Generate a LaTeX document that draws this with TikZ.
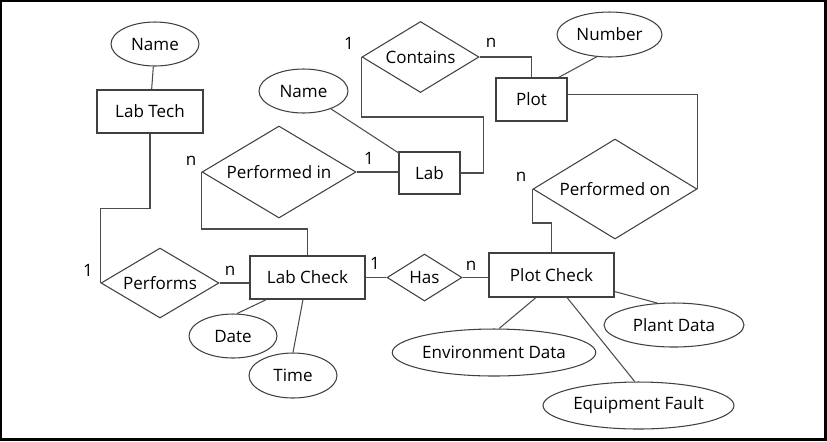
\documentclass[tikz,border=0pt]{standalone}
\usepackage{fontspec}
\setmainfont{Open Sans}
\usepackage{tikz}
\usetikzlibrary{shapes.geometric}

\begin{document}
\begin{tikzpicture}[x = 0.02cm, y = -0.02cm, line width = 0.6pt,
                    every node/.style = {font = \fontsize{9.7}{11}\selectfont},
                    entity/.style = {rectangle, draw = black!75, inner sep = 0pt},
                    attrib/.style = {ellipse, draw = black!75, inner sep = 0pt},
                    relation/.style = {diamond, draw = black!75, aspect = 1.7, inner sep = 0pt},
                    link/.style = {draw = black!70}]

\useasboundingbox (0,0) rectangle (827,441);
\draw[line width = 1.2pt] (1,1) rectangle (825.5,439.5);

% entities
\node [entity, minimum width = 2.12cm, minimum height = 0.86cm] (LabTech) at (150,111.5) {Lab Tech};
\node [entity, minimum width = 2.30cm, minimum height = 0.86cm] (LabCheck) at (307.5,277.5) {Lab Check};
\node [entity, minimum width = 1.22cm, minimum height = 0.84cm] (Lab) at (429.5,173) {Lab};
\node [entity, minimum width = 1.42cm, minimum height = 0.86cm] (Plot) at (531.5,99.5) {Plot};
\node [entity, minimum width = 2.50cm, minimum height = 0.88cm] (PlotCheck) at (551.5,275) {Plot Check};

% relations
\node [relation, minimum width = 2.36cm, minimum height = 1.40cm] (Performs) at (160,283) {Performs};
\node [relation, minimum width = 3.08cm, minimum height = 1.84cm] (PerformedIn) at (279,172) {Performed in};
\node [relation, minimum width = 2.34cm, minimum height = 1.42cm] (Contains) at (420.5,57) {Contains};
\node [relation, minimum width = 3.28cm, minimum height = 2.00cm] (PerformedOn) at (615,189) {Performed on};
\node [relation, minimum width = 1.50cm, minimum height = 0.94cm] (Has) at (424.5,277.5) {Has};

% attributes
\node [attrib, minimum width = 1.76cm, minimum height = 0.88cm] (LabTechName) at (155,44) {Name};
\node [attrib, minimum width = 1.78cm, minimum height = 0.88cm] (LabName) at (303.5,91) {Name};
\node [attrib, minimum width = 2.10cm, minimum height = 0.90cm] (PlotNumber) at (609.5,34.5) {Number};
\node [attrib, minimum width = 1.76cm, minimum height = 0.88cm] (Date) at (233,336) {Date};
\node [attrib, minimum width = 1.76cm, minimum height = 0.90cm] (Time) at (293,375.5) {Time};
\node [attrib, minimum width = 3.86cm, minimum height = 0.94cm] (EnvData) at (494,352.5) {Environment Data};
\node [attrib, minimum width = 3.82cm, minimum height = 0.94cm] (EquipFault) at (638.5,405.5) {Equipment Fault};
\node [attrib, minimum width = 2.80cm, minimum height = 0.88cm] (PlantData) at (674,325) {Plant Data};

% cardinalities
\node (c1) at (88,270) {1};
\node (c2) at (230,271) {n};
\node (c3) at (191,161) {n};
\node (c4) at (369,158) {1};
\node (c5) at (349,43) {1};
\node (c6) at (491,43) {n};
\node (c7) at (521,177) {n};
\node (c8) at (375,263) {1};
\node (c9) at (471,266) {n};

% relation lines
\draw [link] (LabTech.south) -- ++(0,75) -| (Performs.west);
\draw [link] (Performs.east) -- (Performs.east -| LabCheck.west);
\draw [link] (PerformedIn.west) -- ++(0,57) -| (LabCheck.north);
\draw [link] (PerformedIn.east) -- (PerformedIn.east -| Lab.west);
\draw [link] (Lab.east) -- ++(23,0) -- ++(0,-56) -| (Contains.west);
\draw [link] (Contains.east) -| (Plot.north);
\draw [link] ([yshift = 0.1cm]Plot.east) -| (PerformedOn.east);
\draw [link] (PerformedOn.west) -- ++(0,34) -| (PlotCheck.north);
\draw [link] (LabCheck.east) -- (Has.west);
\draw [link] (Has.east) -- (Has.east -| PlotCheck.west);

% attribute lines
\draw [link] (LabTechName) -- (LabTech);
\draw [link] (LabName) -- (Lab);
\draw [link] (PlotNumber.240) -- ([xshift = 0.54cm]Plot.north);
\draw [link] (Date.80) -- ([xshift = 0.34cm]LabCheck.south west);
\draw [link] (Time.north) -- ([xshift = -0.09cm]LabCheck.south);
\draw [link] (EnvData.78) -- ([xshift = -0.31cm]PlotCheck.south);
\draw [link] (EquipFault.99) -- ([xshift = 0.31cm]PlotCheck.south);
\draw [link] (PlantData.127) -- ([yshift = 0.12cm]PlotCheck.south east);
\end{tikzpicture}
\end{document}
